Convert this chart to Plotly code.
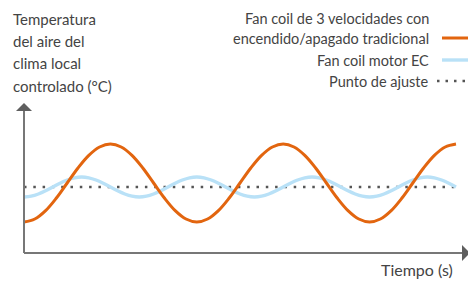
import plotly.graph_objects as go

# ---------------- data ----------------
time_orange = [0, 1.5, 3, 4.5, 6, 7.5, 9, 10.5, 12, 13.5, 15, 16.5, 18, 19.5, 21, 22.5,
               24, 25.5, 27, 28.5, 30, 31.5, 33, 34.5, 36, 37.5, 39, 40.5, 42, 43.5, 45, 46.5,
               48, 49.5, 51, 52.5, 54, 55.5, 57, 58.5, 60]
temp_orange = [20.25, 20.40, 20.82, 21.45, 22.2, 22.95, 23.58, 24.00,
               24.15, 24.00, 23.58, 22.95, 22.2, 21.45, 20.82, 20.40,
               20.25, 20.40, 20.82, 21.45, 22.2, 22.95, 23.58, 24.00,
               24.15, 24.00, 23.58, 22.95, 22.2, 21.45, 20.82, 20.40,
               20.25, 20.40, 20.82, 21.45, 22.2, 22.95, 23.58, 24.00,
               24.15]

time_blue = [0, 1, 2, 3, 4, 5, 6, 7, 8, 9, 10, 11, 12, 13, 14, 15, 16, 17, 18, 19, 20,
             21, 22, 23, 24, 25, 26, 27, 28, 29, 30, 31, 32, 33, 34, 35, 36, 37, 38, 39, 40,
             41, 42, 43, 44, 45, 46, 47, 48, 49, 50, 51, 52, 53, 54, 55, 56, 57, 58, 59, 60]
temp_blue = [21.5, 21.54, 21.65, 21.81, 22.0, 22.19, 22.35, 22.46,
             22.5, 22.46, 22.35, 22.19, 22.0, 21.81, 21.65, 21.54,
             21.5, 21.54, 21.65, 21.81, 22.0, 22.19, 22.35, 22.46,
             22.5, 22.46, 22.35, 22.19, 22.0, 21.81, 21.65, 21.54,
             21.5, 21.54, 21.65, 21.81, 22.0, 22.19, 22.35, 22.46,
             22.5, 22.46, 22.35, 22.19, 22.0, 21.81, 21.65, 21.54,
             21.5, 21.54, 21.65, 21.81, 22.0, 22.19, 22.35, 22.46,
             22.5, 22.46, 22.35, 22.19, 22.0]

time_setpoint = [0, 60]
temp_setpoint = [22.0, 22.0]

series_orange_lines = ["Fan coil de 3 velocidades con", "encendido/apagado tradicional"]
series_blue_name = "Fan coil motor EC"
series_setpoint_name = "Punto de ajuste"
y_title_lines = ["Temperatura", "del aire del", "clima local", "controlado (°C)"]
x_title = "Tiempo (s)"

# ---------------- styling / layout ----------------
W, H = 468, 281
ML, MR, MT, MB = 24, 6, 103, 28
PW, PH = W - ML - MR, H - MT - MB

ORANGE = "#e2650f"
BLUE = "#b9e1f7"
DOTS = "#555555"
AXIS = "#777777"
TEXT = "#444444"
FONT = "Lato"


def px(x):
    return (x - ML) / PW


def py(y):
    return (H - MB - y) / PH


fig = go.Figure()
fig.add_trace(go.Scatter(x=time_setpoint, y=temp_setpoint, mode="lines",
                         line=dict(color=DOTS, width=2.5, dash="2.5px,6.8px"),
                         hoverinfo="skip", showlegend=False))
fig.add_trace(go.Scatter(x=time_blue, y=temp_blue, mode="lines",
                         line=dict(color=BLUE, width=3.4, shape="spline"),
                         name=series_blue_name, showlegend=False))
fig.add_trace(go.Scatter(x=time_orange, y=temp_orange, mode="lines",
                         line=dict(color=ORANGE, width=3, shape="spline"),
                         name=" ".join(series_orange_lines), showlegend=False))

annotations = []
left_centers = [19, 41, 63, 86]
for txt, cy in zip(y_title_lines, left_centers):
    annotations.append(dict(text=txt, xref="paper", yref="paper", x=px(11), y=py(cy),
                            xanchor="left", yanchor="middle", showarrow=False,
                            font=dict(family=FONT, size=15, color=TEXT)))

legend_texts = series_orange_lines + [series_blue_name, series_setpoint_name]
legend_centers = [18, 38, 60, 81]
for txt, cy in zip(legend_texts, legend_centers):
    annotations.append(dict(text=txt, xref="paper", yref="paper", x=px(431), y=py(cy),
                            xanchor="right", yanchor="middle", showarrow=False,
                            font=dict(family=FONT, size=14.5, color=TEXT)))

annotations.append(dict(text=x_title, xref="paper", yref="paper", x=px(455), y=py(269),
                        xanchor="right", yanchor="middle", showarrow=False,
                        font=dict(family=FONT, size=16, color=TEXT)))

shapes = [
    # y axis
    dict(type="line", xref="paper", yref="paper", x0=0, x1=0, y0=0, y1=py(111),
         line=dict(color=AXIS, width=2), layer="above"),
    dict(type="path", xref="paper", yref="paper",
         path=f"M {px(16)},{py(111)} L {px(32)},{py(111)} L {px(24)},{py(103)} Z",
         fillcolor="#5f5f5f", line=dict(width=0), layer="above"),
    # x axis
    dict(type="line", xref="paper", yref="paper", x0=0, x1=px(462), y0=0, y1=0,
         line=dict(color=AXIS, width=2), layer="above"),
    dict(type="path", xref="paper", yref="paper",
         path=f"M {px(462)},{py(245)} L {px(462)},{py(261)} L {px(470)},{py(253)} Z",
         fillcolor="#5f5f5f", line=dict(width=0), layer="above"),
    # legend symbols
    dict(type="line", xref="paper", yref="paper", x0=px(442), x1=px(470), y0=py(38), y1=py(38),
         line=dict(color=ORANGE, width=3)),
    dict(type="line", xref="paper", yref="paper", x0=px(442), x1=px(470), y0=py(60), y1=py(60),
         line=dict(color=BLUE, width=3.4)),
    dict(type="line", xref="paper", yref="paper", x0=px(437), x1=px(470), y0=py(81), y1=py(81),
         line=dict(color=DOTS, width=2.5, dash="2.5px,6px")),
]

fig.update_layout(
    width=W, height=H,
    margin=dict(l=ML, r=MR, t=MT, b=MB, pad=0),
    paper_bgcolor="white", plot_bgcolor="white",
    showlegend=False,
    xaxis=dict(range=[0, PW / 7.2], visible=False, fixedrange=True),
    yaxis=dict(range=[18.7, 26.2], visible=False, fixedrange=True),
    annotations=annotations,
    shapes=shapes,
    font=dict(family=FONT, color=TEXT),
)

fig.write_html("out.html", config={"displayModeBar": False},
               post_script="document.body.style.margin='0';document.body.style.overflow='hidden';")
